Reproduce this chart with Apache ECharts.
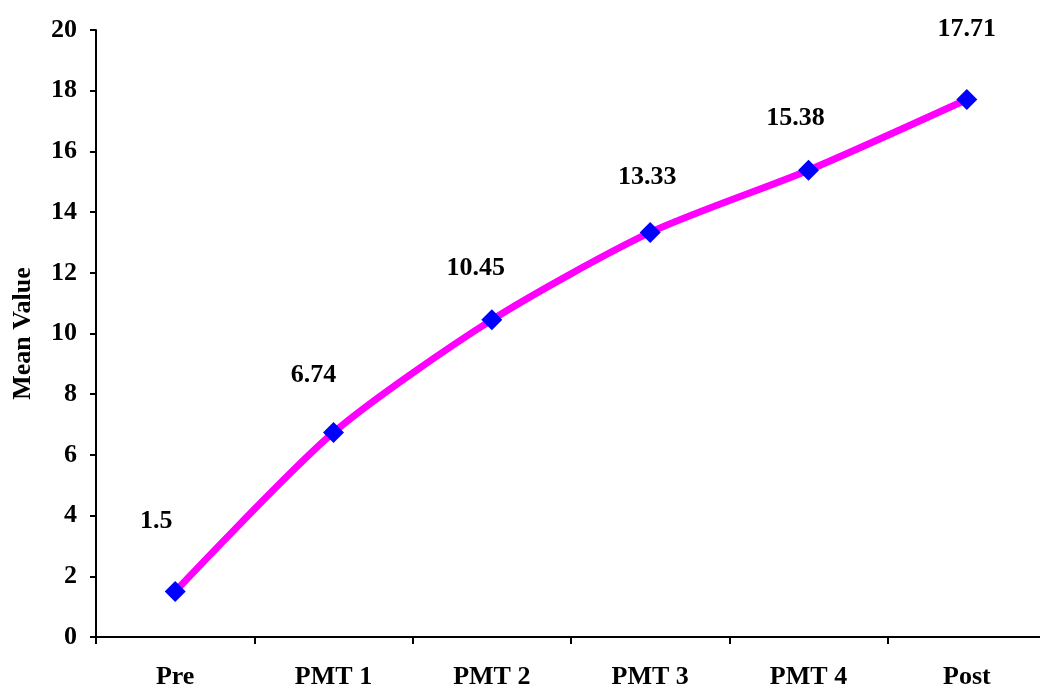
<!DOCTYPE html>
<html>
<head>
<meta charset="utf-8">
<script src="https://cdn.jsdelivr.net/npm/echarts@6/dist/echarts.min.js"></script>
<style>
  html, body { margin: 0; padding: 0; background: #fff; }
  #chart { width: 1040px; height: 689px; }
</style>
</head>
<body>
<div id="chart"></div>
<script>
// Stages of measurement and the mean score at each stage
const categories = ['Pre', 'PMT 1', 'PMT 2', 'PMT 3', 'PMT 4', 'Post'];
const meanValues = [1.5, 6.74, 10.45, 13.33, 15.38, 17.71];

// Where each value label sits relative to its marker [dx, dy]
const labelShift = [[-19, -70], [-20, -57], [-16, -52], [-3, -55], [-13, -52], [0, -70]];

const font = '"Liberation Serif", "Times New Roman", serif';

const chart = echarts.init(document.getElementById('chart'));
chart.setOption({
  animation: false,
  backgroundColor: '#ffffff',
  grid: { left: 96, top: 30, width: 950, height: 607, containLabel: false, outerBoundsMode: 'none' },
  xAxis: {
    type: 'category',
    data: categories,
    boundaryGap: true,
    axisLine: { lineStyle: { color: '#000', width: 2 } },
    axisTick: { show: true, alignWithLabel: false, length: 7, lineStyle: { color: '#000', width: 2 } },
    axisLabel: { color: '#000', fontFamily: font, fontWeight: 'bold', fontSize: 26, margin: 27 },
    splitLine: { show: false }
  },
  yAxis: {
    type: 'value',
    min: 0, max: 20, interval: 2,
    name: 'Mean Value',
    nameLocation: 'middle',
    nameGap: 60,
    nameRotate: 90,
    nameTextStyle: { color: '#000', fontFamily: font, fontWeight: 'bold', fontSize: 26 },
    axisLine: { show: true, lineStyle: { color: '#000', width: 2 } },
    axisTick: { show: true, length: 6, lineStyle: { color: '#000', width: 2 } },
    axisLabel: { color: '#000', fontFamily: font, fontWeight: 'bold', fontSize: 26, margin: 19 },
    splitLine: { show: false }
  },
  series: [{
    type: 'line',
    data: meanValues.map((v, i) => ({
      value: v,
      label: { offset: labelShift[i] }
    })),
    smooth: 0.25,
    lineStyle: { color: '#FF00FF', width: 7 },
    symbol: 'diamond',
    symbolSize: [21, 21],
    itemStyle: { color: '#0000FF' },
    label: {
      show: true,
      position: 'inside',
      color: '#000',
      fontFamily: font,
      fontWeight: 'bold',
      fontSize: 26,
      formatter: p => String(p.value)
    },
    z: 3
  }]
});
</script>
</body>
</html>
